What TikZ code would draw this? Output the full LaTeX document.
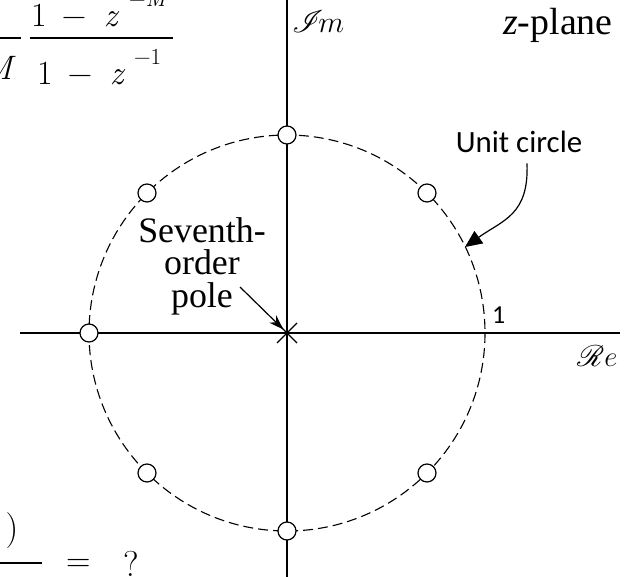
\RequirePackage{fix-cm}
\documentclass[tikz,border=0pt]{standalone}
\usepackage{mathrsfs}
\usepackage{fontspec}
\newfontfamily\tms{Liberation Serif}
\newfontfamily\carl{Carlito}
\usetikzlibrary{arrows.meta,calc}
\newcommand\bigtxt[1]{\scalebox{1.367}{#1}}
\tikzset{
  axis/.style={line width=1.1bp, black},
  ucircle/.style={line width=1.1bp, dash pattern=on 10bp off 5bp},
  zero/.style={circle, draw, fill=white, line width=1.2bp, minimum size=18bp, inner sep=0pt},
  polex/.style={line width=1.3bp},
  bigmath/.style={inner sep=0pt, font=\fontsize{24.88}{30}\selectfont},
  supmath/.style={inner sep=0pt, font=\fontsize{23}{28}\selectfont},
  serif/.style={inner sep=0pt, font=\tms\fontsize{36}{32.5}\selectfont},
  sans/.style={font=\carl\fontsize{31}{36}\selectfont},
  scr/.style={inner sep=0pt, font=\fontsize{24}{28}\selectfont},
  fracbar/.style={line width=2.6bp},
}
\begin{document}
\begin{tikzpicture}[x=1bp,y=-1bp]
\useasboundingbox (0,0) rectangle (633,577);
\clip (0,0) rectangle (633,577);
% axes
\coordinate (O) at (287,333);
\coordinate (xl) at (20,333);
\coordinate (xr) at (620,333);
\coordinate (yt) at (287,0);
\coordinate (yb) at (287,577);
\draw[axis] (xl) -- (xr);
\draw[axis] (yt) -- (yb);
% unit circle
\draw[ucircle] (O) circle[radius=198];
% zeros
\node[zero] (z1) at (427,193) {};
\node[zero] (z2) at (287,135) {};
\node[zero] (z3) at (147,193) {};
\node[zero] (z4) at (89,333) {};
\node[zero] (z5) at (147,473) {};
\node[zero] (z6) at (287,531) {};
\node[zero] (z7) at (427,473) {};
% pole
\draw[polex] ($(O)+(-10,-10)$) -- ($(O)+(10,10)$);
\draw[polex] ($(O)+(-10,10)$) -- ($(O)+(10,-10)$);
% labels
\node[scr, anchor=base west] (im) at (292,33) {\scalebox{1.26}{$\mathscr{I}\!m$}};
\node[inner sep=0pt, anchor=base west, font=\tms\fontsize{38}{40}\selectfont] (zp) at (503,35) {\textit{z}-plane};
\node[scr, anchor=base west] (re) at (577,366) {\scalebox{1.2}{$\mathscr{R}e$}};
\node[inner sep=0pt, anchor=base west, font=\carl\fontsize{26}{30}\selectfont] (one) at (492,323) {1};
\node[serif, align=center, anchor=base] (pole) at (202,307) {Seventh-\\order\\pole};
\node[sans, anchor=base, inner xsep=0pt, inner ysep=10bp] (uc) at (519,153) {Unit circle};
% arrows
\coordinate (pa) at (240,287);
\coordinate (uctip) at (465,247);
\draw[line width=1.2bp, -{Stealth[length=15bp,width=10bp]}, shorten >=5bp] (pa) -- (O);
\draw[line width=1.2bp, -{Triangle[length=17bp,width=15bp]}] ([xshift=8bp]uc.south) .. controls (529,215) and (503,220) .. (uctip);
% top formula (clipped)
\draw[fracbar] (-5,38) -- (21,38);
\node[bigmath, anchor=base east] (fm) at (16,80) {\bigtxt{\textit{M}}};
\draw[fracbar] (30,38) -- (173,38);
\node[bigmath, anchor=base west] (num) at (31,27) {\bigtxt{1\hspace{11bp}−\hspace{13bp}\textit{z}}};
\node[supmath, anchor=base west] (nsup) at (129,7) {−\textit{M}};
\node[bigmath, anchor=base west] (den) at (37,85) {\bigtxt{1\hspace{11bp}−\hspace{13bp}\textit{z}}};
\node[supmath, anchor=base west] (dsup) at (134,65) {−1};
% bottom formula (clipped)
\node[scr, anchor=center] (rp) at (12,531) {\scalebox{1.5}{$\big)$}};
\draw[fracbar] (-5,563) -- (42,563);
\node[bigmath, anchor=base west] (eq) at (66,571.5) {\bigtxt{=}};
\node[bigmath, anchor=base west] (qm) at (123,576) {\scalebox{1.45}{?}};
\end{tikzpicture}
\end{document}
